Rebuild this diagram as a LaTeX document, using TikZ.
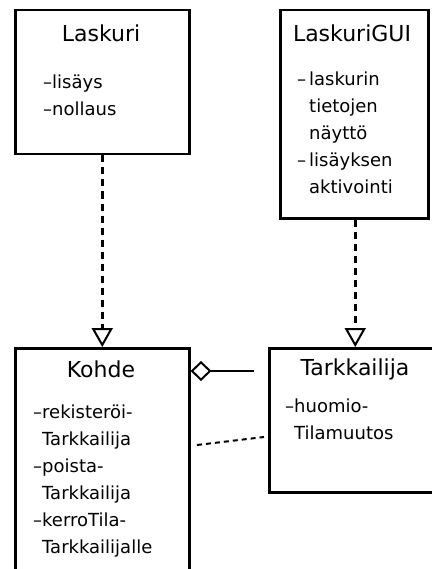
\documentclass[tikz,border=0pt]{standalone}
\usepackage{fontspec}
\setmainfont{DejaVu Sans}
\usepackage{tikz}
\usetikzlibrary{arrows.meta,positioning,calc}

\newcommand{\op}{\textendash}
\newcommand{\cont}{\phantom{\textendash}}

\begin{document}
\begin{tikzpicture}[x=1pt, y=-1pt,
    classbox/.style={draw, rectangle, line width=2.5pt, anchor=north west, inner sep=0pt},
    classname/.style={font=\fontsize{22}{24}\selectfont},
    methods/.style={anchor=north west, align=left, inner sep=0pt, font=\fontsize{18}{27}\selectfont},
    realize/.style={line width=3pt, dash pattern=on 7pt off 5pt, -{Triangle[open, width=21pt, length=19pt, line width=2pt]}},
    aggregate/.style={line width=2.5pt, {Diamond[open, width=20pt, length=21pt, line width=2pt]}-},
    usage/.style={line width=2pt, dash pattern=on 5pt off 4pt}
]
    \useasboundingbox (0,0) rectangle (431,569);

    % Classes
    \node[classbox, minimum width=174pt, minimum height=144pt] (laskuri) at (14,9) {};
    \node[classbox, minimum width=148pt, minimum height=208pt] (gui) at (279,9) {};
    \node[classbox, minimum width=174pt, minimum height=240pt] (kohde) at (14,347) {};
    \node[classbox, minimum width=172pt, minimum height=144pt] (tarkkailija) at (268,347) {};

    % Names
    \node[classname] (laskuriname) at (101,33) {Laskuri};
    \node[classname] (guiname) at (352,33) {LaskuriGUI};
    \node[classname] (kohdename) at (101,369) {Kohde};
    \node[classname] (tarkkailijaname) at (355,369) {Tarkkailija};

    % Methods
    \node[methods] (laskurimethods) at (43,75) {\op lisäys\\\op nollaus};
    \node[methods] (guimethods) at (297,72) {\op\,laskurin\\\cont\,tietojen\\\cont\,näyttö\\\op\,lisäyksen\\\cont\,aktivointi};
    \node[methods] (kohdemethods) at (33,405) {\op rekisteröi-\\\cont Tarkkailija\\\op poista-\\\cont Tarkkailija\\\op kerroTila-\\\cont Tarkkailijalle};
    \node[methods] (tarkkailijamethods) at (285,399) {\op huomio-\\\cont Tilamuutos};

    % Relations
    \draw[realize] (laskuri.south) -- (kohde.north);
    \draw[realize] (gui.south -| tarkkailija.north) -- (tarkkailija.north);
    \coordinate (aggend) at (254,371);
    \draw[aggregate] (kohde.east |- aggend) -- (aggend);
    \coordinate (usestart) at (197,445);
    \coordinate (useend) at (264,437);
    \draw[usage] (usestart) -- (useend);
\end{tikzpicture}
\end{document}
